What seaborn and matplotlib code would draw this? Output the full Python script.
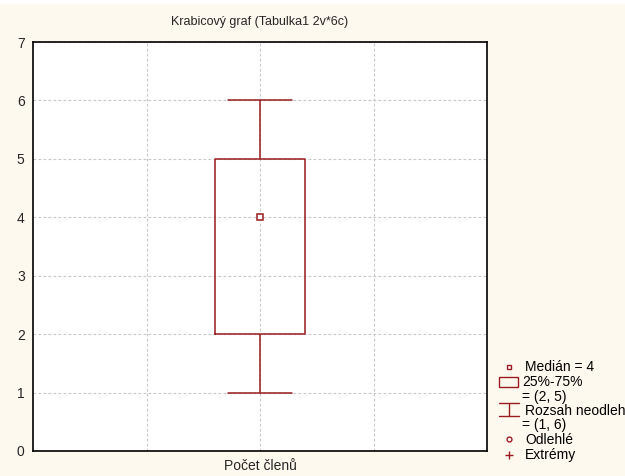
"""Boxplot recreation: Krabicový graf (Tabulka1 2v*6c)."""

import numpy as np
import matplotlib as mpl
import matplotlib.pyplot as plt
from matplotlib.lines import Line2D
from matplotlib.patches import Rectangle
import seaborn as sns

# ── data ──────────────────────────────────────────────────────────────────────
TITLE = "Krabicový graf (Tabulka1 2v*6c)"
VARIABLE = "Počet členů"
# sample chosen so that median = 4, quartiles = (2, 5), range = (1, 6)
VALUES = [1, 2, 2, 4, 5, 5, 6]
Y_TICKS = [0, 1, 2, 3, 4, 5, 6, 7]
LEGEND_LABELS = ["Medián = 4", "25%-75%", "= (2, 5)", "Rozsah neodlehlých",
                 "= (1, 6)", "Odlehlé", "Extrémy"]

BOX_COLOR = "#9A1B1E"
BG_COLOR = "#FEF9EE"
GRID_COLOR = "#C8C8C8"

sns.set_style("white")
mpl.rcParams.update({
    "font.family": ["Liberation Sans", "DejaVu Sans"],
    "font.size": 10,
})

W, H = 625, 476
fig = plt.figure(figsize=(W / 100, H / 100), dpi=100, facecolor=BG_COLOR)


def px(x, y):
    return x / W, 1 - y / H


# white strip along the very top
fig.patches.append(Rectangle((0, 1 - 4 / H), 1, 4 / H, transform=fig.transFigure,
                             facecolor="white", edgecolor="none", zorder=0))

l, b = px(33, 451)
r, t = px(487, 42)
ax = fig.add_axes([l, b, r - l, t - b])
ax.set_facecolor("white")

sns.boxplot(x=[VARIABLE] * len(VALUES), y=VALUES, ax=ax, width=0.8,
            fill=False, color=BOX_COLOR, linewidth=1.1,
            showfliers=False, whis=1.5,
            medianprops={"visible": False})

# stretch the whisker caps a bit (Statistica style)
for ln in ax.lines:
    xd = np.asarray(ln.get_xdata(), dtype=float)
    if len(xd) == 2 and xd[0] != xd[1]:
        yd = ln.get_ydata()
        if yd[0] == yd[1] and yd[0] in (min(VALUES), max(VALUES)):
            c = xd.mean()
            ln.set_xdata([c - 0.28, c + 0.28])

ax.plot([0], [np.median(VALUES)], marker="s", ms=4, mfc="white",
        mec=BOX_COLOR, mew=1.1, zorder=5)

ax.set_xlim(-2, 2)
ax.set_ylim(0, 7)
ax.set_yticks(Y_TICKS)
ax.set_xticks([-1, 0, 1])
ax.set_xticklabels(["", VARIABLE, ""])
ax.set_xlabel("")
ax.set_ylabel("")
ax.grid(True, color=GRID_COLOR, linestyle=(0, (2.5, 2)), linewidth=0.8)
ax.set_axisbelow(True)
ax.tick_params(axis="both", direction="in", length=3, color="black",
               labelsize=10, pad=6)
for sp in ax.spines.values():
    sp.set_visible(True)
    sp.set_color("black")
    sp.set_linewidth(1.2)

ax.set_title(TITLE, fontsize=9, pad=12)

# ── legend drawn in figure pixels ─────────────────────────────────────────────
tx, tx2 = 525, 522
kw = dict(fontsize=10, va="center", ha="left", color="black")

fig.add_artist(Line2D(*zip(px(509, 367)), marker="s", ms=3.5, mfc="white",
                      mec=BOX_COLOR, mew=1.0, transform=fig.transFigure))
fig.text(*px(tx, 367), LEGEND_LABELS[0], **kw)

x0, y0 = px(499, 387)
x1, y1 = px(518, 377)
fig.patches.append(Rectangle((x0, y0), x1 - x0, y1 - y0, transform=fig.transFigure,
                             facecolor="none", edgecolor=BOX_COLOR, lw=1.0))
fig.text(*px(tx2, 382), LEGEND_LABELS[1], **kw)
fig.text(*px(tx2, 397), LEGEND_LABELS[2], **kw)

for (xa, ya), (xb, yb) in [((499, 403), (519, 403)), ((499, 416), (519, 416)),
                           ((509, 403), (509, 416))]:
    pa, pb = px(xa, ya), px(xb, yb)
    fig.add_artist(Line2D([pa[0], pb[0]], [pa[1], pb[1]], color=BOX_COLOR,
                          lw=1.0, transform=fig.transFigure))
fig.text(*px(tx, 411), LEGEND_LABELS[3], **kw)
fig.text(*px(tx2, 425), LEGEND_LABELS[4], **kw)

fig.add_artist(Line2D(*zip(px(509, 439)), marker="o", ms=3.5, mfc="white",
                      mec=BOX_COLOR, mew=1.0, transform=fig.transFigure))
fig.text(*px(tx, 440), LEGEND_LABELS[5], **kw)
fig.add_artist(Line2D(*zip(px(509, 455)), marker="+", ms=6, mec=BOX_COLOR,
                      mew=1.0, transform=fig.transFigure))
fig.text(*px(tx, 455), LEGEND_LABELS[6], **kw)

fig.savefig("out.png", dpi=100, facecolor=BG_COLOR)
